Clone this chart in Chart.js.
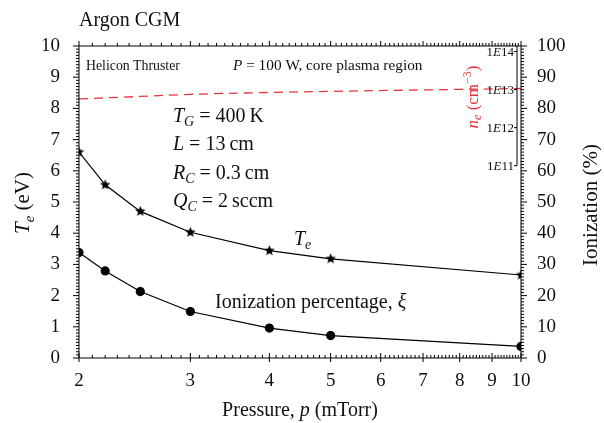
<!DOCTYPE html>
<html>
<head>
<meta charset="utf-8">
<script src="https://cdn.jsdelivr.net/npm/chart.js@4"></script>
<style>
  html, body { margin: 0; padding: 0; background: #fff; }
  #wrap { width: 604px; height: 423px; }
</style>
</head>
<body>
<div id="wrap"><canvas id="chart" width="604" height="423"></canvas></div>
<script>
// pressure sweep (mTorr) and the two measured curves
const pressure = [2, 2.2, 2.5, 3, 4, 5, 10];
const electronTemp = [6.6, 5.55, 4.7, 4.03, 3.44, 3.18, 2.66];   // eV
const ionization = [33.8, 27.9, 21.3, 14.9, 9.6, 7.2, 3.7];       // %

// electron density in the core (cm^-3)
const nePressure = [2, 2.5, 3, 4, 5, 7, 10];
const neDensity = [5.7e12, 6.6e12, 7.5e12, 8.4e12, 9.0e12, 9.8e12, 1.07e13];

const pressureTicks = [2, 3, 4, 5, 6, 7, 8, 9, 10];
const neTicks = [1e11, 1e12, 1e13, 1e14];

const SERIF = '"Liberation Serif", "Times New Roman", serif';

// filled five-point star used as the Te marker
function makeStar(r) {
  const c = document.createElement('canvas');
  const s = Math.ceil(r * 2 + 2);
  c.width = s; c.height = s;
  const g = c.getContext('2d');
  g.fillStyle = '#000';
  g.beginPath();
  for (let i = 0; i < 10; i++) {
    const rad = i % 2 === 0 ? r : r * 0.45;
    const a = -Math.PI / 2 + i * Math.PI / 5;
    const px = s / 2 + rad * Math.cos(a), py = s / 2 + rad * Math.sin(a);
    i === 0 ? g.moveTo(px, py) : g.lineTo(px, py);
  }
  g.closePath();
  g.fill();
  return c;
}

// text made of runs: n = normal, i = italic, is = italic subscript, s = superscript
function rich(ctx, parts, x, y, size, align, color) {
  const fontFor = k => {
    const small = (k === 'is' || k === 's');
    const it = (k === 'i' || k === 'is');
    return (it ? 'italic ' : '') + (small ? size * 0.7 : size) + 'px ' + SERIF;
  };
  let total = 0;
  const widths = parts.map(([t, k]) => {
    ctx.font = fontFor(k);
    const w = ctx.measureText(t).width;
    total += w;
    return w;
  });
  let cx = x;
  if (align === 'center') cx = x - total / 2;
  if (align === 'right') cx = x - total;
  ctx.fillStyle = color || '#111';
  ctx.textBaseline = 'alphabetic';
  ctx.textAlign = 'left';
  parts.forEach(([t, k], i) => {
    ctx.font = fontFor(k);
    let dy = 0;
    if (k === 'is') dy = size * 0.22;
    if (k === 's') dy = -size * 0.38;
    ctx.fillText(t, cx, y + dy);
    cx += widths[i];
  });
}

function richRotated(ctx, parts, x, y, size, color) {
  ctx.save();
  ctx.translate(x, y);
  ctx.rotate(-Math.PI / 2);
  rich(ctx, parts, 0, size * 0.33, size, 'center', color);
  ctx.restore();
}

const decorations = {
  id: 'decorations',
  afterDraw(chart) {
    const ctx = chart.ctx;
    const a = chart.chartArea;
    const xs = chart.scales.x, yl = chart.scales.y, yr = chart.scales.y2, yn = chart.scales.yNe;
    ctx.save();
    ctx.strokeStyle = '#000';
    ctx.lineWidth = 1;
    ctx.strokeRect(a.left, a.top, a.right - a.left, a.bottom - a.top);

    ctx.beginPath();
    // left axis: 0.1 eV minor ticks outside
    for (let i = 0; i <= 100; i++) {
      const y = yl.getPixelForValue(i / 10);
      const len = i % 10 === 0 ? 6 : 3;
      ctx.moveTo(a.left - len, y); ctx.lineTo(a.left, y);
    }
    // right axis: 1 % minor ticks outside
    for (let i = 0; i <= 100; i++) {
      const y = yr.getPixelForValue(i);
      const len = i % 10 === 0 ? 6 : 3;
      ctx.moveTo(a.right, y); ctx.lineTo(a.right + len, y);
    }
    // bottom and top: 0.1 mTorr steps on the log axis
    for (let i = 20; i <= 100; i++) {
      const x = xs.getPixelForValue(i / 10);
      const major = i % 10 === 0;
      ctx.moveTo(x, a.bottom - (major ? 5 : 3)); ctx.lineTo(x, a.bottom + (major ? 4 : 0));
      ctx.moveTo(x, a.top); ctx.lineTo(x, a.top - (major ? 5 : 3));
    }
    // short density axis just inside the right frame
    const nx = a.right - 4;
    ctx.moveTo(nx, a.top); ctx.lineTo(nx, yn.getPixelForValue(neTicks[0]));
    neTicks.forEach(v => {
      const y = yn.getPixelForValue(v);
      ctx.moveTo(nx - 3, y); ctx.lineTo(nx, y);
    });
    ctx.stroke();

    neTicks.forEach(v => {
      const y = yn.getPixelForValue(v);
      const exp = String(Math.round(Math.log10(v)));
      rich(ctx, [['1', 'n'], ['E', 'i'], [exp, 'n']], nx - 3, y + 4.5, 13, 'right');
    });
    richRotated(ctx, [['n', 'i'], ['e', 'is'], [' (cm', 'n'], ['\u22123', 's'], [')', 'n']], 472, 97, 17, '#e8333a');

    rich(ctx, [['Argon CGM', 'n']], 79, 26, 20, 'left');
    rich(ctx, [['Helicon Thruster', 'n']], 86, 70, 13.8, 'left');
    rich(ctx, [['P', 'i'], [' = 100 W, core plasma region', 'n']], 233, 70, 15.3, 'left');
    rich(ctx, [['T', 'i'], ['G', 'is'], [' = 400\u2009K', 'n']], 173, 122, 20, 'left');
    rich(ctx, [['L', 'i'], [' = 13\u2009cm', 'n']], 173, 150, 20, 'left');
    rich(ctx, [['R', 'i'], ['C', 'is'], [' = 0.3\u2009cm', 'n']], 173, 179, 20, 'left');
    rich(ctx, [['Q', 'i'], ['C', 'is'], [' = 2\u2009sccm', 'n']], 173, 207, 20, 'left');
    rich(ctx, [['T', 'i'], ['e', 'is']], 294, 245, 20, 'left');
    rich(ctx, [['Ionization percentage, ', 'n'], ['\u03BE', 'i']], 215, 308, 20, 'left');

    richRotated(ctx, [['T', 'i'], ['e', 'is'], [' (eV)', 'n']], 22, 203, 21);
    richRotated(ctx, [['Ionization (%)', 'n']], 590, 205, 21);
    rich(ctx, [['Pressure, ', 'n'], ['p', 'i'], [' (mTorr)', 'n']], 300, 416, 20, 'center');
    ctx.restore();
  }
};

const tickFont = { family: SERIF, size: 19 };

new Chart(document.getElementById('chart'), {
  type: 'line',
  data: {
    datasets: [
      {
        label: 'Te',
        data: pressure.map((p, i) => ({ x: p, y: electronTemp[i] })),
        yAxisID: 'y',
        borderColor: '#000',
        borderWidth: 1.2,
        pointStyle: makeStar(5.5),
        tension: 0
      },
      {
        label: 'Ionization',
        data: pressure.map((p, i) => ({ x: p, y: ionization[i] })),
        yAxisID: 'y2',
        borderColor: '#000',
        backgroundColor: '#000',
        borderWidth: 1.2,
        pointStyle: 'circle',
        pointRadius: 4,
        tension: 0
      },
      {
        label: 'ne',
        data: nePressure.map((p, i) => ({ x: p, y: neDensity[i] })),
        yAxisID: 'yNe',
        borderColor: '#e8333a',
        borderWidth: 1.3,
        borderDash: [9, 6],
        pointRadius: 0,
        tension: 0.4
      }
    ]
  },
  options: {
    responsive: false,
    animation: false,
    layout: { padding: { top: 46, left: 0, right: 0, bottom: 0 } },
    plugins: { legend: { display: false }, tooltip: { enabled: false } },
    scales: {
      x: {
        type: 'logarithmic',
        min: 2,
        max: 10,
        afterBuildTicks: s => { s.ticks = pressureTicks.map(v => ({ value: v })); },
        afterFit: s => { s.height = 65; },
        ticks: { font: tickFont, color: '#111', padding: 4, maxRotation: 0, callback: v => String(v) },
        grid: { display: false },
        border: { display: false }
      },
      y: {
        position: 'left',
        min: 0,
        max: 10,
        afterFit: s => { s.width = 79; },
        ticks: { stepSize: 1, font: tickFont, color: '#111', padding: 11 },
        grid: { display: false },
        border: { display: false }
      },
      y2: {
        position: 'right',
        min: 0,
        max: 100,
        afterFit: s => { s.width = 83; },
        ticks: { stepSize: 10, font: tickFont, color: '#111', padding: 8 },
        grid: { display: false },
        border: { display: false }
      },
      yNe: {
        type: 'logarithmic',
        display: false,
        min: 8.8e5,
        max: 1.4e14
      }
    }
  },
  plugins: [decorations]
});
</script>
</body>
</html>
